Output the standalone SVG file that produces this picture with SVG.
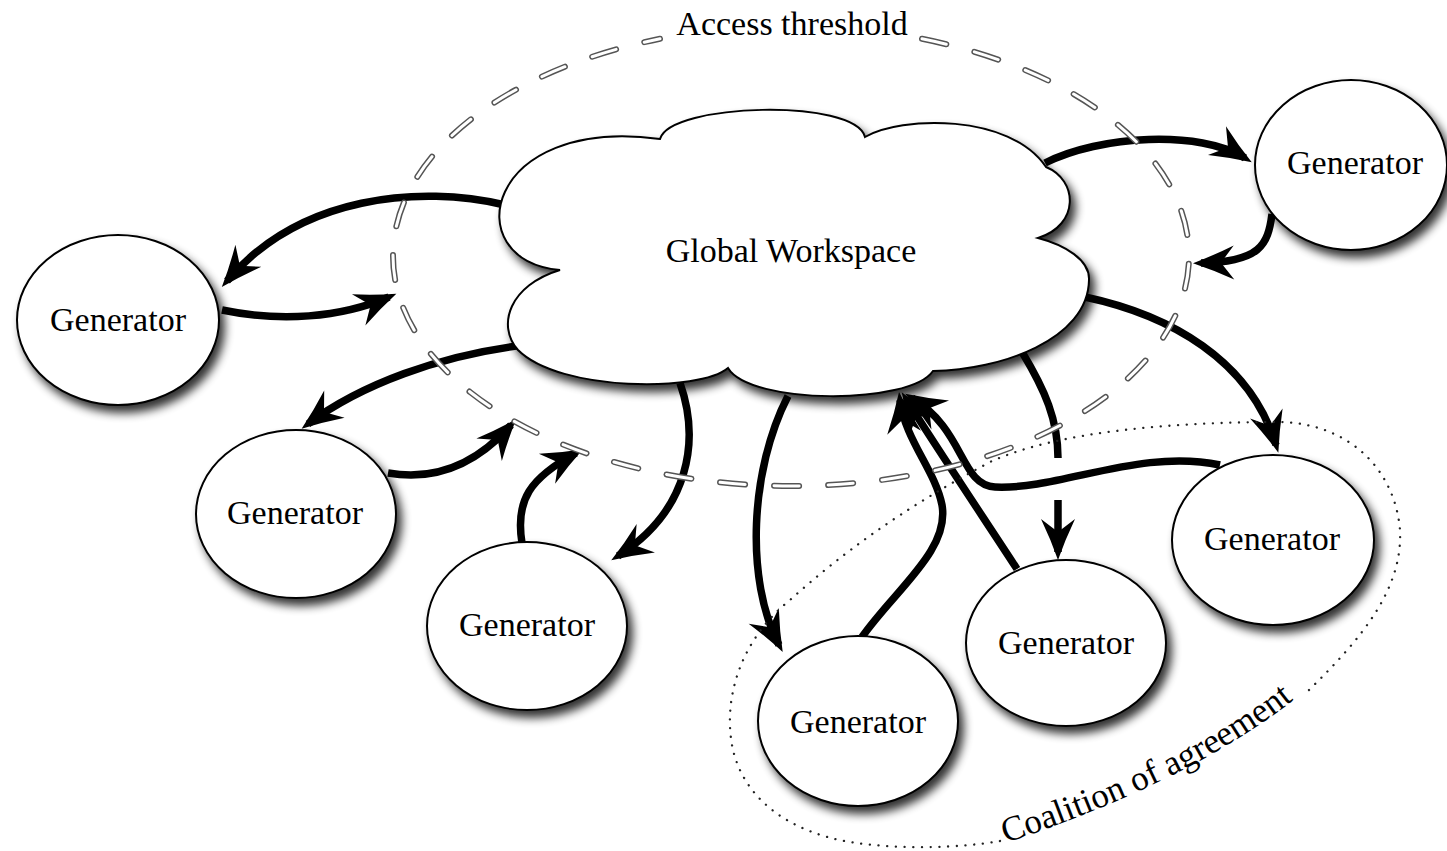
<svg xmlns="http://www.w3.org/2000/svg" width="1447" height="851" viewBox="0 0 1447 851">
<style>
.node{fill:#fff;stroke:#000;stroke-width:2;filter:url(#sh)}
.lbl{font-family:"Liberation Serif","Times New Roman",serif;font-size:34px;fill:#000;text-anchor:middle}
.con{fill:none;stroke:#000;stroke-width:7.5}
.arr{marker-end:url(#ah)}
.thrO{fill:none;stroke:#555;stroke-width:6;stroke-dasharray:25 29;stroke-linecap:round}
.thrI{fill:none;stroke:#fff;stroke-width:3;stroke-dasharray:25 29;stroke-linecap:round}
.dot{fill:none;stroke:#222;stroke-width:2.3;stroke-dasharray:0.1 8.6;stroke-linecap:round}
</style>
<defs>
<filter id="sh" x="-20%" y="-20%" width="150%" height="150%">
<feGaussianBlur in="SourceAlpha" stdDeviation="5"/>
<feOffset dx="5" dy="7"/>
<feComponentTransfer><feFuncA type="linear" slope="0.8"/></feComponentTransfer>
<feMerge><feMergeNode/><feMergeNode in="SourceGraphic"/></feMerge>
</filter>
<marker id="ah" markerUnits="userSpaceOnUse" markerWidth="70" markerHeight="60" viewBox="-55 -30 70 60" refX="-8" refY="0" orient="auto" overflow="visible">
<path d="M0,0 Q-20,-7 -41,-17 L-28,0 L-41,17 Q-20,7 0,0 Z" fill="#000"/>
</marker>
<path id="cpath" d="M1006,843 C 1103,810 1228,760 1320,678"/>
</defs>
<rect width="1447" height="851" fill="#fff"/>

<g id="connectors">
<path class="con arr" d="M505,205 C 420,185 300,195 227,281"/>
<path class="con arr" d="M222,310 C 280,322 340,318 389,297"/>
<path class="con arr" d="M525,345 C 440,355 360,385 308,424"/>
<path class="con arr" d="M388,473 C 440,482 480,460 511,425"/>
<path class="con arr" d="M522,543 C 515,500 530,478 576,453"/>
<path class="con arr" d="M680,383 C 700,440 690,510 618,556"/>
<path class="con arr" d="M788,396 C 750,470 745,580 779,645"/>
<path class="con arr" d="M862,637 C 895,590 950,550 942,505 C 935,470 905,440 900,400"/>
<path class="con arr" d="M1017,569 C 985,520 935,445 906,399"/>
<path class="con arr" d="M1220,465 C 1140,448 1060,490 995,487 C 960,485 965,430 912,398"/>
<path class="con" d="M1022,352 C 1045,390 1058,420 1058,458"/>
<path class="con arr" d="M1058,500 L1058,552"/>
<path class="con arr" d="M1085,297 C 1170,315 1250,360 1276,445"/>
<path class="con arr" d="M1045,163 C 1100,135 1200,130 1245,158"/>
<path class="con arr" d="M1272,214 C 1268,245 1260,262 1201,263"/>
</g>

<g id="threshold">
<path class="thrO" d="M922,38.8 A398,230 0 1 1 660,38.8"/>
<path class="thrI" d="M922,38.8 A398,230 0 1 1 660,38.8"/>
<text class="lbl" x="792" y="35">Access threshold</text>
</g>

<g id="coalition">
<path class="dot" d="M1000,841 C 960,848 900,850 850,842 C 790,832 745,800 733,750 C 722,700 740,640 790,600 C 840,555 900,510 990,462 C 1060,430 1180,422 1281,422 C 1350,424 1395,470 1400,530 C 1403,590 1360,640 1309,690"/>
<text style="font-family:'Liberation Serif','Times New Roman',serif;font-size:35px;fill:#000"><textPath href="#cpath">Coalition of agreement</textPath></text>
</g>

<g id="workspace">
<path class="node" d="M560,270 C 455,260 485,115 660,139 C 670,103 855,98 865,137 C 900,116 1010,113 1046,167 C 1078,180 1080,225 1038,238 C 1065,245 1090,260 1089,280 C 1088,340 1000,370 933,371 C 910,405 750,405 728,368 C 700,392 560,392 518,350 C 496,325 510,285 560,270 Z"/>
<text class="lbl" x="791" y="262">Global Workspace</text>
</g>

<g id="gen1"><ellipse class="node" cx="1351" cy="165" rx="96" ry="85"/><text class="lbl" x="1355" y="174">Generator</text></g>
<g id="gen2"><ellipse class="node" cx="118" cy="320" rx="101" ry="85"/><text class="lbl" x="118" y="331">Generator</text></g>
<g id="gen3"><ellipse class="node" cx="296" cy="514" rx="100" ry="84"/><text class="lbl" x="295" y="524">Generator</text></g>
<g id="gen4"><ellipse class="node" cx="527" cy="626" rx="100" ry="84"/><text class="lbl" x="527" y="636">Generator</text></g>
<g id="gen5"><ellipse class="node" cx="858" cy="721" rx="100" ry="85"/><text class="lbl" x="858" y="733">Generator</text></g>
<g id="gen6"><ellipse class="node" cx="1066" cy="643" rx="100" ry="83"/><text class="lbl" x="1066" y="654">Generator</text></g>
<g id="gen7"><ellipse class="node" cx="1273" cy="540" rx="101" ry="85"/><text class="lbl" x="1272" y="550">Generator</text></g>
</svg>
